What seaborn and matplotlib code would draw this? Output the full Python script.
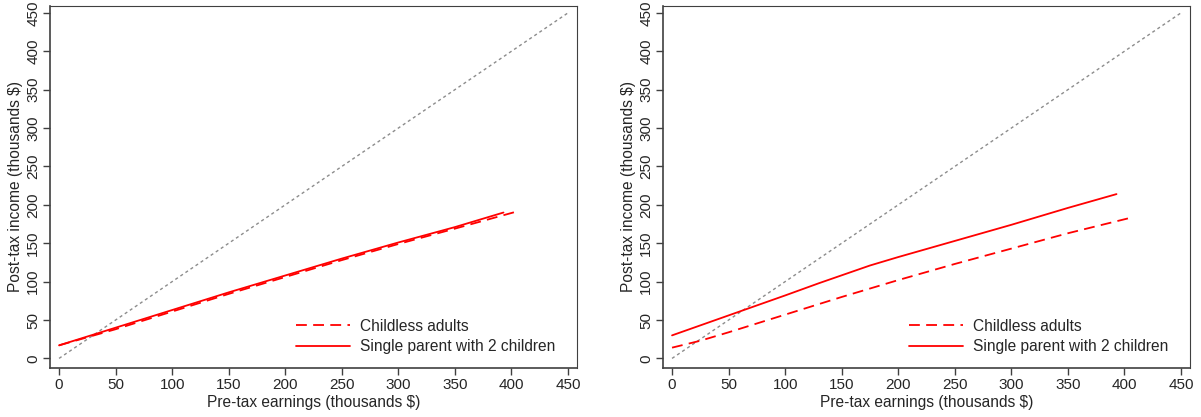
import numpy as np
import pandas as pd
import matplotlib
matplotlib.use("Agg")
import matplotlib.pyplot as plt
import seaborn as sns

# ---- data (thousands $) ----
left_childless_x = [0, 50, 100, 150, 200, 250, 300, 350, 404]
left_childless_y = [17, 38, 61, 84, 106, 128, 149, 169, 191]
left_parent_x = [0, 50, 100, 150, 175, 200, 250, 300, 350, 393]
left_parent_y = [17, 40, 63, 86, 97, 108, 130, 151, 171, 190]

right_childless_x = [0, 25, 50, 100, 150, 200, 250, 300, 350, 405]
right_childless_y = [14, 23, 34, 57, 80, 102, 123, 143, 163, 183]
right_parent_x = [0, 50, 100, 130, 175, 200, 250, 300, 350, 393]
right_parent_y = [30, 56, 82, 98, 121, 132, 153, 174, 196, 214]

diag = [0, 450]
ticks = [0, 50, 100, 150, 200, 250, 300, 350, 400, 450]
labels = ["Childless adults", "Single parent with 2 children"]

sns.set_style("white")
plt.rcParams['font.family'] = ['Liberation Sans', 'DejaVu Sans']
plt.rcParams['font.size'] = 11

fig = plt.figure(figsize=(12.01, 4.17), dpi=100)
W, H = 1201, 417
ax1 = fig.add_axes([50 / W, (417 - 368) / H, 527 / W, 362 / H])
ax2 = fig.add_axes([663 / W, (417 - 368) / H, 527 / W, 362 / H])


def draw(ax, cx, cy, px, py):
    dfd = pd.DataFrame({"x": diag, "y": diag})
    sns.lineplot(data=dfd, x="x", y="y", ax=ax, color="#8c8c8c", lw=1.0,
                 legend=False)
    ax.lines[-1].set_dashes((2.2, 2.2))
    dfc = pd.DataFrame({"x": cx, "y": cy})
    sns.lineplot(data=dfc, x="x", y="y", ax=ax, color="red", lw=1.3,
                 sort=False, estimator=None, label=labels[0])
    ax.lines[-1].set_dashes((6, 3.5))
    dfp = pd.DataFrame({"x": px, "y": py})
    sns.lineplot(data=dfp, x="x", y="y", ax=ax, color="red", lw=1.3,
                 sort=False, estimator=None, label=labels[1])
    ax.set_xlim(-8, 458)
    ax.set_ylim(-12.5, 459)
    ax.set_xticks(ticks)
    ax.set_yticks(ticks)
    ax.set_yticklabels([str(t) for t in ticks], rotation=90, va="center")
    ax.set_xlabel("Pre-tax earnings (thousands $)", fontsize=11.2, labelpad=2)
    ax.set_ylabel("Post-tax income (thousands $)", fontsize=11.2, labelpad=2)
    ax.tick_params(axis="both", direction="out", length=5, width=1,
                   color="#404040", labelsize=11, pad=2, bottom=True, left=True)
    for s in ax.spines.values():
        s.set_color("#404040")
        s.set_linewidth(1.2)
    ax.spines["top"].set_linewidth(0.8)
    ax.spines["right"].set_linewidth(0.8)
    ax.grid(False)
    ax.legend(loc="lower right", bbox_to_anchor=(0.985, 0.0), frameon=False,
              handlelength=3.5, handletextpad=0.6, fontsize=11.2,
              labelspacing=0.35)


draw(ax1, left_childless_x, left_childless_y, left_parent_x, left_parent_y)
draw(ax2, right_childless_x, right_childless_y, right_parent_x, right_parent_y)

fig.savefig("out.png", dpi=100)
